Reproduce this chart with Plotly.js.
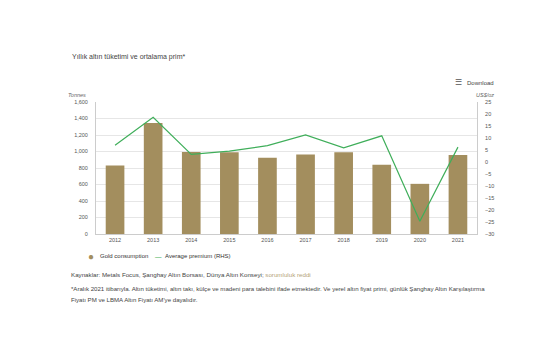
<!DOCTYPE html>
<html>
<head>
<meta charset="utf-8">
<script src="https://cdn.plot.ly/plotly-3.0.1.min.js"></script>
<style>
html,body{margin:0;padding:0;background:#fff;}
#chart{width:555px;height:355px;}
</style>
</head>
<body>
<div id="chart"></div>
<script>
const years = ["2012","2013","2014","2015","2016","2017","2018","2019","2020","2021"];
const goldConsumption = [830, 1345, 993, 990, 925, 965, 990, 840, 608, 958];
const averagePremium = [7.0, 18.6, 3.2, 4.5, 6.8, 11.3, 5.9, 10.9, -24.7, 6.2];
const leftTicks = [0, 200, 400, 600, 800, 1000, 1200, 1400, 1600];
const rightTicks = [25, 20, 15, 10, 5, 0, -5, -10, -15, -20, -25, -30];
const seriesNames = ["Gold consumption", "Average premium (RHS)"];

const FONT = "Liberation Sans, Arial, sans-serif";
const barColor = "#a38e5e";
const lineColor = "#3fae5a";

const traces = [
  {
    type: "bar", x: years, y: goldConsumption, name: seriesNames[0],
    marker: {color: barColor}, width: 0.49, yaxis: "y"
  },
  {
    type: "scatter", mode: "lines", x: years, y: averagePremium, name: seriesNames[1],
    line: {color: lineColor, width: 1.2}, yaxis: "y2"
  }
];

const layout = {
  width: 555, height: 355,
  margin: {l: 96, r: 78, t: 102, b: 121},
  paper_bgcolor: "#fff", plot_bgcolor: "#fff",
  font: {family: FONT, size: 6, color: "#555"},
  showlegend: false,
  xaxis: {
    type: "category", showgrid: false, showline: true, linecolor: "#ccc", linewidth: 1,
    ticks: "", tickfont: {size: 5.5, color: "#555"}, fixedrange: true
  },
  yaxis: {
    range: [0, 1600], tickvals: leftTicks, tickformat: ",d",
    showgrid: true, gridcolor: "#e6e6e6", gridwidth: 1, zeroline: false,
    showline: true, linecolor: "#ccc", linewidth: 1, ticks: "",
    tickfont: {size: 5.5, color: "#555"}, ticklabelstandoff: 6
  },
  yaxis2: {
    overlaying: "y", side: "right", range: [-30, 25], tickvals: rightTicks,
    showgrid: false, zeroline: false, showline: true, linecolor: "#ccc", linewidth: 1,
    ticks: "", tickfont: {size: 5.5, color: "#555"}, ticklabelstandoff: 6
  },
  annotations: []
};

function pxAnn(x, y, text, size, color, extra) {
  return Object.assign({xref: "paper", yref: "paper",
    x: (x - 96) / (555 - 96 - 78), y: (355 - 121 - y) / (355 - 102 - 121),
    xanchor: "left", yanchor: "middle", text: text, showarrow: false, align: "left",
    font: {size: size, color: color, family: FONT}}, extra || {});
}

layout.annotations.push(
  pxAnn(70, 57, "Yıllık altın tüketimi ve ortalama prim*", 7, "#444"),
  pxAnn(453, 83, "☰", 8, "#555"),
  pxAnn(465, 83, "Download", 6, "#444"),
  pxAnn(88, 95, "<i>Tonnes</i>", 5.5, "#666", {xanchor: "right"}),
  pxAnn(474, 95, "<i>US$/oz</i>", 5.5, "#666"),
  pxAnn(86, 256, "●", 10, barColor),
  pxAnn(98, 256, seriesNames[0], 6, "#333"),
  pxAnn(153, 256, "—", 6.5, lineColor),
  pxAnn(163, 256, seriesNames[1], 6, "#333"),
  pxAnn(69, 274, "Kaynaklar: Metals Focus, Şanghay Altın Borsası, Dünya Altın Konseyi; <span style='color:#b3a27a'>sorumluluk reddi</span>", 6.2, "#444"),
  pxAnn(69, 288, "*Aralık 2021 itibarıyla. Altın tüketimi, altın takı, külçe ve madeni para talebini ifade etmektedir. Ve yerel altın fiyat primi, günlük Şanghay Altın Karşılaştırma", 6.1, "#444"),
  pxAnn(69, 299, "Fiyatı PM ve LBMA Altın Fiyatı AM'ye dayalıdır.", 6.1, "#444")
);

Plotly.newPlot("chart", traces, layout, {displayModeBar: false, staticPlot: true});
</script>
</body>
</html>
